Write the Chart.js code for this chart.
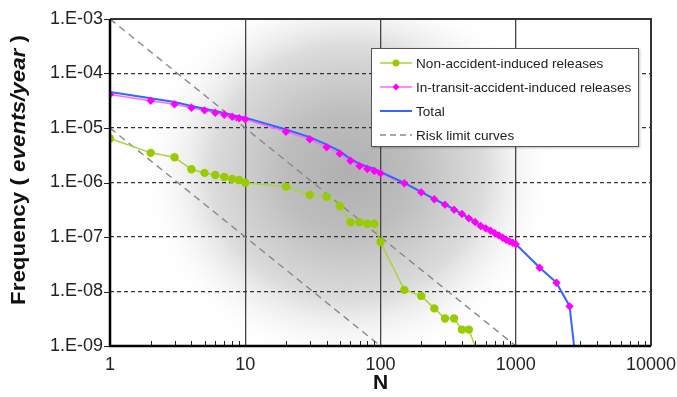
<!DOCTYPE html>
<html lang="en">
<head>
<meta charset="UTF-8" />
<title>F-N curves</title>
<script src="https://cdn.jsdelivr.net/npm/chart.js"></script>
<style>
  body{margin:0;background:#fff;font-family:'Liberation Sans',Arial,sans-serif;}
  #wrap{position:relative;width:677px;height:397px;}
  #legend{
    position:absolute;left:371px;top:48px;width:266px;height:95px;
    background:#fff;border:1.5px solid #555;box-shadow:1px 1px 2px rgba(0,0,0,.25);
    padding-top:2px;box-sizing:content-box;
  }
  #legend .row{display:flex;align-items:center;height:24px;font-size:13.6px;color:#222;}
  #legend svg{margin-left:8px;margin-right:4px;flex:none;}
</style>
</head>
<body>
<div id="wrap">
  <canvas id="chart" width="677" height="397"></canvas>
  <div id="legend">
    <div class="row">
      <svg width="32" height="12"><line x1="0" y1="6" x2="32" y2="6" stroke="#a8d43a" stroke-width="1.5"/><circle cx="16" cy="6" r="3.5" fill="#99cc00"/></svg>
      <span>Non-accident-induced releases</span>
    </div>
    <div class="row">
      <svg width="32" height="12"><line x1="0" y1="6" x2="32" y2="6" stroke="#ff66ff" stroke-width="1.5"/><path d="M16 2.5 L19.5 6 L16 9.5 L12.5 6 Z" fill="#ff00ff"/></svg>
      <span>In-transit-accident-induced releases</span>
    </div>
    <div class="row">
      <svg width="32" height="12"><line x1="0" y1="6" x2="32" y2="6" stroke="#3366ff" stroke-width="2"/></svg>
      <span>Total</span>
    </div>
    <div class="row">
      <svg width="32" height="12"><line x1="0" y1="6" x2="32" y2="6" stroke="#888" stroke-width="1.5" stroke-dasharray="6 4"/></svg>
      <span>Risk limit curves</span>
    </div>
  </div>
</div>

<script>
/* ---------- data ---------- */
const nGreen = [1,2,3,4,5,6,7,8,9,10,20,30,40,50,60,70,80,90,100,150,200,250,300,350,400,450,500];
const fGreen = [6.4e-6,3.5e-6,2.9e-6,1.75e-6,1.5e-6,1.37e-6,1.26e-6,1.16e-6,1.11e-6,9.9e-7,
                8.4e-7,5.9e-7,5.5e-7,3.7e-7,1.86e-7,1.86e-7,1.75e-7,1.75e-7,8.1e-8,
                1.07e-8,8.3e-9,4.9e-9,3.2e-9,3.2e-9,2.0e-9,2.0e-9,1.0e-9];

const nTransit = [1,2,3,4,5,6,7,8,9,10,20,30,40,50,60,70,80,90,100,
                  150,200,250,300,350,400,450,500,550,600,650,700,750,800,850,900,950,1000,
                  1500,2000,2500];
const fTransit = [4.1e-5,3.17e-5,2.72e-5,2.36e-5,2.11e-5,1.91e-5,1.75e-5,1.61e-5,1.51e-5,1.45e-5,
                  8.55e-6,6.2e-6,4.42e-6,3.38e-6,2.51e-6,2.01e-6,1.77e-6,1.63e-6,1.48e-6,
                  9.66e-7,6.6e-7,4.92e-7,3.92e-7,3.17e-7,2.64e-7,2.2e-7,1.88e-7,1.59e-7,1.44e-7,
                  1.31e-7,1.17e-7,1.07e-7,9.7e-8,8.9e-8,8.3e-8,7.85e-8,7.34e-8,
                  2.73e-8,1.45e-8,5.34e-9];

const nTotal = [1,2,3,4,5,6,7,8,9,10,20,30,40,50,60,70,80,90,100,
                150,200,250,300,350,400,450,500,550,600,650,700,750,800,850,900,950,1000,
                1500,2000,2100,2500,2700];
const fTotal = [4.6e-5,3.5e-5,3.0e-5,2.54e-5,2.26e-5,2.05e-5,1.88e-5,1.73e-5,1.62e-5,1.55e-5,
                9.4e-6,6.8e-6,4.97e-6,3.75e-6,2.7e-6,2.2e-6,1.95e-6,1.8e-6,1.56e-6,
                9.8e-7,6.7e-7,4.97e-7,3.95e-7,3.2e-7,2.66e-7,2.22e-7,1.89e-7,1.6e-7,1.45e-7,
                1.32e-7,1.18e-7,1.08e-7,9.8e-8,9.0e-8,8.4e-8,7.9e-8,7.4e-8,
                2.75e-8,1.46e-8,1.16e-8,5.4e-9,1.0e-9];

const nRiskHi = [1,1000],  fRiskHi = [1e-3,1e-9];
const nRiskLo = [1,100],   fRiskLo = [1e-5,1e-9];

const xTicks      = [1,10,100,1000,10000];
const xTickLabels = ['1','10','100','1000','10000'];
const xGridAt     = [10,100,1000];
const yTicks      = [1e-9,1e-8,1e-7,1e-6,1e-5,1e-4,1e-3];
const yTickLabels = ['1.E-09','1.E-08','1.E-07','1.E-06','1.E-05','1.E-04','1.E-03'];

const pts = (xs,ys)=>xs.map((x,i)=>({x:x,y:ys[i]}));
const FONT = "'Liberation Sans', Arial, sans-serif";

/* ---------- background shading, frame, ticks, axis titles ---------- */
const decor = {
  id:'decor',
  beforeDraw(chart){
    const {ctx, chartArea:a} = chart;
    ctx.save();
    ctx.beginPath(); ctx.rect(a.left,a.top,a.width,a.height); ctx.clip();
    ctx.fillStyle='#fff'; ctx.fillRect(a.left,a.top,a.width,a.height);
    const cx = a.left + a.width*0.44, cy = a.top + a.height*0.47;
    const rx = a.width*0.39, ry = a.height*0.6;
    ctx.translate(cx,cy); ctx.scale(1, ry/rx);
    const g = ctx.createRadialGradient(0,0,0,0,0,rx);
    g.addColorStop(0,'#b0b0b0');
    g.addColorStop(0.3,'#bdbdbd');
    g.addColorStop(0.65,'#dcdcdc');
    g.addColorStop(1,'rgba(255,255,255,0)');
    ctx.fillStyle=g;
    ctx.fillRect(-rx*2,-rx*2,rx*4,rx*4);
    ctx.restore();
  },
  afterDatasetsDraw(chart){
    const {ctx, chartArea:a, scales} = chart;
    ctx.save();
    // minor ticks on N axis (pointing inwards)
    ctx.strokeStyle='#222'; ctx.lineWidth=1;
    for (let d=1; d<10000; d*=10){
      for (let m=2; m<10; m++){
        const x = Math.round(scales.x.getPixelForValue(d*m))+0.5;
        ctx.beginPath(); ctx.moveTo(x,a.bottom); ctx.lineTo(x,a.bottom-5); ctx.stroke();
      }
    }
    // y tick marks (outwards)
    yTicks.forEach(v=>{
      const y = Math.round(scales.y.getPixelForValue(v))+0.5;
      ctx.beginPath(); ctx.moveTo(a.left-6,y); ctx.lineTo(a.left,y); ctx.stroke();
    });
    // frame
    ctx.lineWidth=2;
    ctx.strokeStyle='#333';
    ctx.beginPath(); ctx.moveTo(a.left,a.top); ctx.lineTo(a.right,a.top); ctx.lineTo(a.right,a.bottom); ctx.stroke();
    ctx.strokeStyle='#000';
    ctx.lineWidth=2.5;
    ctx.beginPath(); ctx.moveTo(a.left,a.top); ctx.lineTo(a.left,a.bottom); ctx.lineTo(a.right,a.bottom); ctx.stroke();
    ctx.restore();
  },
  afterDraw(chart){
    const {ctx, chartArea:a} = chart;
    ctx.save();
    ctx.fillStyle='#111';
    // x title
    ctx.font = 'bold 21px '+FONT;
    ctx.textAlign='center'; ctx.textBaseline='middle';
    ctx.fillText('N',(a.left+a.right)/2,383);
    // y title with italic middle part, stretched along its length like the original
    const parts = [['Frequency ( ','bold 19.5px '+FONT],['events/year','italic bold 19.5px '+FONT],[' )','bold 19.5px '+FONT]];
    let w = 0;
    parts.forEach(p=>{ctx.font=p[1]; w+=ctx.measureText(p[0]).width;});
    const stretch = 270/w;
    ctx.translate(20,170); ctx.rotate(-Math.PI/2); ctx.scale(stretch,1);
    ctx.textAlign='left';
    let x = -w/2;
    parts.forEach(p=>{ctx.font=p[1]; ctx.fillText(p[0],x,0); x+=ctx.measureText(p[0]).width;});
    ctx.restore();
  }
};

/* ---------- chart ---------- */
const chart = new Chart(document.getElementById('chart'),{
  type:'scatter',
  data:{datasets:[
    {label:'In-transit markers', data:pts(nTransit,fTransit), showLine:false,
     pointStyle:'rectRot', pointRadius:4.2, backgroundColor:'#ff00ff', borderColor:'#ff00ff', borderWidth:0, order:1},
    {label:'Total', data:pts(nTotal,fTotal), showLine:true, borderColor:'#3366ff', borderWidth:2,
     pointRadius:0, order:3},
    {label:'In-transit-accident-induced releases', data:pts(nTransit,fTransit), showLine:true,
     borderColor:'#ff66ff', borderWidth:1.5, pointRadius:0, order:4},
    {label:'Non-accident-induced releases', data:pts(nGreen,fGreen), showLine:true,
     borderColor:'#a8d43a', borderWidth:1.5, backgroundColor:'#99cc00',
     pointRadius:c=>(c.raw && c.raw.y<=1e-9)?0:4.2, pointBorderWidth:0, order:5},
    {label:'Risk limit curves', data:pts(nRiskHi,fRiskHi), showLine:true, borderColor:'#888',
     borderWidth:1.4, borderDash:[7,5], pointRadius:0, order:10},
    {label:'Risk limit curves 2', data:pts(nRiskLo,fRiskLo), showLine:true, borderColor:'#888',
     borderWidth:1.4, borderDash:[7,5], pointRadius:0, order:10}
  ]},
  options:{
    responsive:false, animation:false, devicePixelRatio:1,
    layout:{padding:{top:19,right:26,left:0,bottom:0}},
    plugins:{legend:{display:false},tooltip:{enabled:false}},
    scales:{
      x:{
        type:'logarithmic', min:1, max:10000,
        afterBuildTicks:s=>{s.ticks = xTicks.map(v=>({value:v}));},
        afterFit:s=>{s.height = 51; s.paddingLeft = 0; s.paddingRight = 0;},
        ticks:{autoSkip:false,maxRotation:0,padding:8,color:'#222',font:{family:FONT,size:18},
               callback:(v,i)=>xTickLabels[i]},
        grid:{drawTicks:false,lineWidth:1.3,
              color:c=>(c.tick && xGridAt.includes(c.tick.value))?'#444':'rgba(0,0,0,0)'},
        border:{display:false}
      },
      y:{
        type:'logarithmic', min:1e-9, max:1e-3,
        afterBuildTicks:s=>{s.ticks = yTicks.map(v=>({value:v}));},
        afterFit:s=>{s.width = 110; s.paddingTop = 0; s.paddingBottom = 0;},
        ticks:{autoSkip:false,padding:7,color:'#222',font:{family:FONT,size:18},
               callback:(v,i)=>yTickLabels[i]},
        grid:{drawTicks:false,lineWidth:1.3,color:'#333'},
        border:{display:false,dash:[4,3]}
      }
    }
  },
  plugins:[decor]
});
</script>
</body>
</html>
